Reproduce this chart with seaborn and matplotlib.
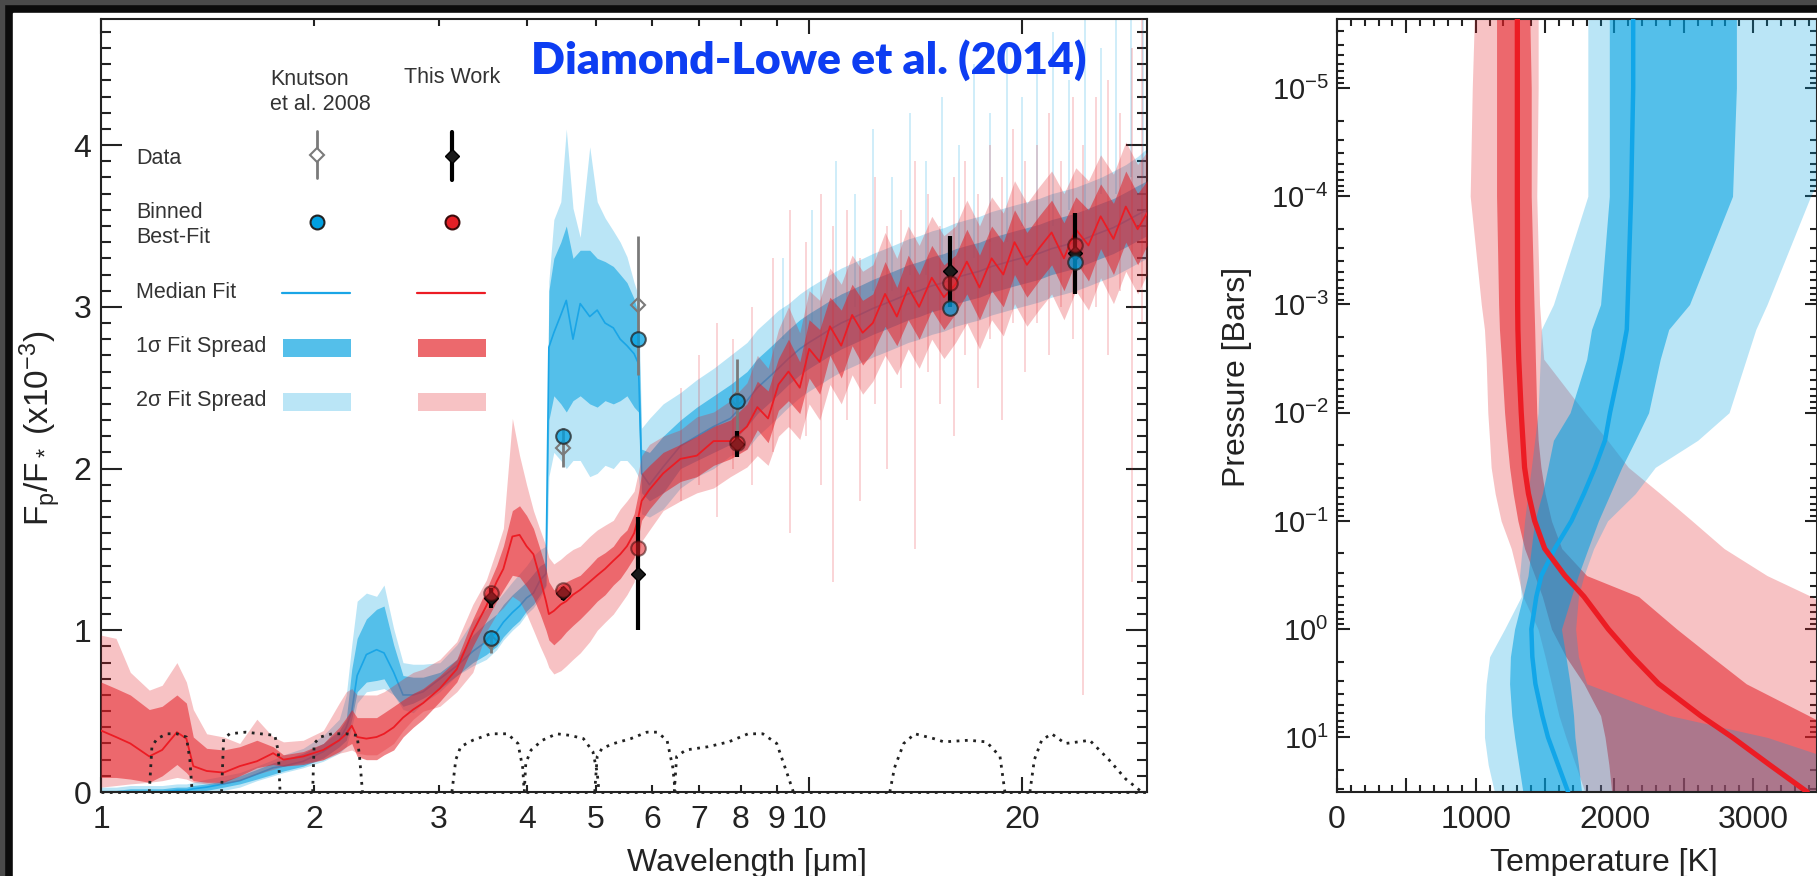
import matplotlib
matplotlib.use("Agg")
import matplotlib.pyplot as plt
import seaborn as sns
from matplotlib.patches import Rectangle
from matplotlib.ticker import (FixedLocator, FixedFormatter, MultipleLocator,
                               LogLocator, NullFormatter, FuncFormatter)

# ---------------- emission spectrum, Fp/F* in units of 1e-3 ----------------
wavelength = [
    1.00, 1.05, 1.10, 1.17, 1.22, 1.28, 1.32, 1.35, 1.41, 1.49,
    1.57, 1.66, 1.75, 1.81, 1.93, 2.06, 2.17, 2.22, 2.26, 2.30,
    2.37, 2.45, 2.51, 2.59, 2.67, 2.76, 2.85, 3.01, 3.18, 3.35,
    3.50, 3.62, 3.70, 3.81, 3.90, 3.99, 4.08, 4.17, 4.25, 4.29,
    4.36, 4.46, 4.54, 4.64, 4.75, 4.90, 5.02, 5.15, 5.29, 5.41,
    5.53, 5.66, 5.74, 5.80, 5.95, 6.22, 6.58, 6.94, 7.33, 7.74,
    8.17, 8.45, 8.75, 9.05, 9.35, 9.7, 10.0, 10.35, 10.7, 11.1,
    11.5, 11.9, 12.3, 12.8, 13.3, 13.8, 14.3, 14.9, 15.5, 16.1,
    16.7, 17.4, 18.1, 18.8, 19.5, 20.3, 21.1, 22.0, 22.9, 23.8,
    24.8, 25.8, 26.9, 28.0, 29.1, 30.0,
]

# this work (red)
red_med = [
    0.38, 0.34, 0.30, 0.22, 0.26, 0.37, 0.33, 0.16, 0.13, 0.12,
    0.16, 0.19, 0.24, 0.20, 0.22, 0.26, 0.32, 0.36, 0.41, 0.34,
    0.33, 0.34, 0.36, 0.40, 0.46, 0.51, 0.55, 0.64, 0.76, 0.99,
    1.15, 1.30, 1.38, 1.58, 1.59, 1.52, 1.47, 1.32, 1.18, 1.10,
    1.12, 1.16, 1.18, 1.22, 1.25, 1.30, 1.34, 1.38, 1.43, 1.47,
    1.52, 1.60, 1.70, 1.80, 1.87, 1.97, 2.06, 2.08, 2.17, 2.17,
    2.26, 2.38, 2.31, 2.52, 2.60, 2.50, 2.74, 2.66, 2.88, 2.76,
    2.95, 2.84, 2.90, 3.08, 2.94, 3.12, 3.00, 3.18, 3.06, 3.14,
    3.28, 3.12, 3.30, 3.20, 3.40, 3.26, 3.36, 3.46, 3.30, 3.48,
    3.38, 3.56, 3.42, 3.62, 3.48, 3.58,
]
red_1hi = [
    0.68, 0.64, 0.60, 0.51, 0.53, 0.60, 0.55, 0.34, 0.27, 0.26,
    0.28, 0.32, 0.28, 0.23, 0.25, 0.30, 0.40, 0.46, 0.51, 0.46,
    0.46, 0.46, 0.49, 0.53, 0.57, 0.61, 0.64, 0.72, 0.82, 1.07,
    1.25, 1.40, 1.52, 1.74, 1.77, 1.71, 1.63, 1.50, 1.38, 1.30,
    1.25, 1.28, 1.30, 1.32, 1.34, 1.40, 1.45, 1.48, 1.52, 1.58,
    1.62, 1.72, 1.85, 1.97, 2.02, 2.10, 2.15, 2.20, 2.26, 2.30,
    2.40, 2.54, 2.48, 2.68, 2.80, 2.66, 2.92, 2.86, 3.06, 2.98,
    3.14, 3.04, 3.08, 3.28, 3.12, 3.32, 3.20, 3.38, 3.26, 3.32,
    3.48, 3.32, 3.50, 3.40, 3.60, 3.46, 3.56, 3.66, 3.52, 3.68,
    3.60, 3.76, 3.64, 3.84, 3.70, 3.78,
]
red_1lo = [
    0.09, 0.09, 0.08, 0.06, 0.10, 0.17, 0.12, 0.07, 0.06, 0.06,
    0.10, 0.15, 0.17, 0.16, 0.17, 0.20, 0.25, 0.28, 0.30, 0.22,
    0.20, 0.20, 0.23, 0.26, 0.34, 0.40, 0.45, 0.56, 0.68, 0.90,
    1.06, 1.18, 1.25, 1.34, 1.33, 1.27, 1.20, 1.10, 1.00, 0.94,
    0.91, 0.95, 0.99, 1.03, 1.07, 1.13, 1.18, 1.22, 1.28, 1.32,
    1.38, 1.45, 1.58, 1.68, 1.75, 1.85, 1.92, 1.95, 2.02, 2.06,
    2.12, 2.24, 2.16, 2.36, 2.42, 2.34, 2.56, 2.46, 2.70, 2.56,
    2.76, 2.64, 2.72, 2.88, 2.76, 2.92, 2.80, 2.98, 2.86, 2.96,
    3.08, 2.92, 3.10, 3.00, 3.20, 3.06, 3.16, 3.26, 3.10, 3.28,
    3.16, 3.36, 3.20, 3.40, 3.26, 3.38,
]
red_2hi = [
    0.97, 0.95, 0.74, 0.63, 0.66, 0.80, 0.68, 0.51, 0.36, 0.34,
    0.30, 0.45, 0.34, 0.31, 0.32, 0.38, 0.55, 0.62, 0.64, 0.60,
    0.60, 0.60, 0.62, 0.66, 0.70, 0.74, 0.76, 0.82, 0.93, 1.16,
    1.31, 1.50, 1.63, 2.31, 2.08, 1.90, 1.74, 1.62, 1.52, 1.45,
    1.41, 1.44, 1.47, 1.50, 1.52, 1.58, 1.62, 1.65, 1.68, 1.75,
    1.80, 1.86, 1.98, 2.08, 2.15, 2.20, 2.24, 2.32, 2.35, 2.42,
    2.53, 2.70, 2.62, 2.86, 3.00, 2.84, 3.10, 3.04, 3.24, 3.14,
    3.32, 3.22, 3.26, 3.46, 3.30, 3.50, 3.38, 3.56, 3.44, 3.50,
    3.66, 3.50, 3.68, 3.58, 3.78, 3.64, 3.74, 3.84, 3.70, 3.86,
    3.78, 3.94, 3.82, 4.02, 3.88, 3.96,
]
red_2lo = [
    0.03, 0.04, 0.05, 0.06, 0.07, 0.09, 0.08, 0.06, 0.05, 0.05,
    0.07, 0.11, 0.14, 0.16, 0.18, 0.20, 0.24, 0.25, 0.26, 0.24,
    0.23, 0.23, 0.26, 0.30, 0.38, 0.45, 0.50, 0.53, 0.62, 0.74,
    0.99, 1.10, 1.14, 1.21, 1.18, 1.10, 1.00, 0.90, 0.82, 0.77,
    0.73, 0.75, 0.78, 0.82, 0.86, 0.93, 1.00, 1.05, 1.10, 1.16,
    1.22, 1.30, 1.45, 1.55, 1.62, 1.74, 1.80, 1.85, 1.88, 1.95,
    2.01, 2.08, 2.02, 2.20, 2.26, 2.18, 2.40, 2.30, 2.52, 2.40,
    2.58, 2.46, 2.54, 2.70, 2.58, 2.74, 2.62, 2.80, 2.68, 2.78,
    2.90, 2.74, 2.92, 2.82, 3.02, 2.88, 2.98, 3.08, 2.92, 3.10,
    2.98, 3.18, 3.02, 3.22, 3.08, 3.20,
]

# Knutson et al. 2008 (blue)
blue_med = [
    0.00, 0.00, 0.00, 0.00, 0.00, 0.01, 0.01, 0.02, 0.03, 0.05,
    0.07, 0.11, 0.15, 0.16, 0.19, 0.25, 0.32, 0.40, 0.50, 0.72,
    0.85, 0.88, 0.86, 0.74, 0.60, 0.60, 0.62, 0.70, 0.78, 0.87,
    0.93, 0.99, 1.05, 1.11, 1.15, 1.20, 1.23, 1.31, 1.35, 2.75,
    2.84, 2.95, 3.04, 2.80, 3.02, 2.94, 2.98, 2.90, 2.87, 2.80,
    2.76, 2.71, 2.65, 1.97, 1.90, 2.01, 2.14, 2.20, 2.26, 2.31,
    2.42, 2.50, 2.56, 2.62, 2.68, 2.74, 2.78, 2.82, 2.86, 2.90,
    2.93, 2.96, 2.99, 3.02, 3.05, 3.08, 3.10, 3.13, 3.15, 3.18,
    3.20, 3.22, 3.25, 3.27, 3.29, 3.31, 3.33, 3.36, 3.38, 3.40,
    3.43, 3.46, 3.49, 3.53, 3.57, 3.60,
]
blue_1hi = [
    0.01, 0.01, 0.02, 0.02, 0.02, 0.03, 0.03, 0.04, 0.05, 0.07,
    0.10, 0.14, 0.18, 0.20, 0.24, 0.30, 0.38, 0.45, 0.76, 0.95,
    1.07, 1.13, 1.15, 0.91, 0.72, 0.71, 0.71, 0.74, 0.82, 0.97,
    1.05, 1.10, 1.16, 1.22, 1.26, 1.30, 1.35, 1.40, 1.42, 3.10,
    3.30, 3.40, 3.50, 3.30, 3.35, 3.35, 3.30, 3.28, 3.25, 3.20,
    3.15, 3.05, 2.95, 2.12, 2.10, 2.20, 2.30, 2.38, 2.45, 2.52,
    2.60, 2.68, 2.74, 2.80, 2.86, 2.92, 2.96, 3.00, 3.04, 3.08,
    3.11, 3.14, 3.17, 3.20, 3.23, 3.26, 3.28, 3.31, 3.33, 3.36,
    3.38, 3.40, 3.43, 3.45, 3.47, 3.49, 3.51, 3.54, 3.56, 3.58,
    3.61, 3.64, 3.67, 3.71, 3.75, 3.78,
]
blue_1lo = [
    -0.02, -0.02, -0.02, -0.02, -0.02, -0.01, -0.01, 0.00, 0.01, 0.03,
    0.05, 0.08, 0.11, 0.13, 0.16, 0.21, 0.28, 0.32, 0.45, 0.62,
    0.68, 0.69, 0.70, 0.60, 0.53, 0.55, 0.58, 0.64, 0.72, 0.80,
    0.85, 0.90, 0.96, 1.02, 1.06, 1.12, 1.16, 1.22, 1.28, 2.30,
    2.45, 2.40, 2.35, 2.42, 2.45, 2.40, 2.38, 2.42, 2.40, 2.42,
    2.45, 2.38, 2.35, 1.85, 1.80, 1.85, 2.00, 2.05, 2.10, 2.15,
    2.26, 2.34, 2.40, 2.46, 2.52, 2.58, 2.62, 2.66, 2.70, 2.74,
    2.77, 2.80, 2.83, 2.86, 2.89, 2.92, 2.94, 2.97, 2.99, 3.02,
    3.04, 3.06, 3.09, 3.11, 3.13, 3.15, 3.17, 3.20, 3.22, 3.24,
    3.27, 3.30, 3.33, 3.37, 3.41, 3.44,
]
blue_2hi = [
    0.03, 0.03, 0.04, 0.04, 0.04, 0.05, 0.05, 0.06, 0.08, 0.10,
    0.12, 0.16, 0.20, 0.23, 0.27, 0.35, 0.45, 0.60, 0.91, 1.18,
    1.23, 1.21, 1.28, 1.01, 0.80, 0.79, 0.79, 0.80, 0.91, 1.06,
    1.13, 1.18, 1.23, 1.30, 1.35, 1.40, 1.46, 1.50, 1.52, 3.16,
    3.54, 3.65, 4.10, 3.61, 3.43, 3.99, 3.65, 3.55, 3.47, 3.40,
    3.31, 3.15, 3.07, 2.25, 2.31, 2.40, 2.47, 2.55, 2.62, 2.70,
    2.78, 2.86, 2.92, 2.98, 3.02, 3.08, 3.12, 3.16, 3.20, 3.24,
    3.27, 3.30, 3.33, 3.36, 3.39, 3.42, 3.44, 3.47, 3.49, 3.52,
    3.54, 3.56, 3.59, 3.61, 3.63, 3.65, 3.67, 3.70, 3.72, 3.74,
    3.77, 3.80, 3.84, 3.88, 3.93, 3.98,
]
blue_2lo = [
    -0.03, -0.03, -0.03, -0.03, -0.03, -0.02, -0.02, -0.01, 0.00, 0.01,
    0.03, 0.07, 0.10, 0.12, 0.15, 0.19, 0.24, 0.28, 0.40, 0.55,
    0.62, 0.63, 0.64, 0.60, 0.51, 0.49, 0.55, 0.62, 0.72, 0.78,
    0.82, 0.88, 0.94, 1.00, 1.04, 1.10, 1.14, 1.20, 1.27, 1.95,
    2.10, 2.05, 2.00, 2.05, 2.05, 1.95, 1.97, 2.02, 2.00, 2.05,
    2.05, 2.00, 1.95, 1.72, 1.70, 1.75, 1.88, 1.95, 2.00, 2.08,
    2.12, 2.20, 2.26, 2.32, 2.38, 2.44, 2.48, 2.52, 2.56, 2.60,
    2.63, 2.66, 2.69, 2.72, 2.75, 2.78, 2.80, 2.83, 2.85, 2.88,
    2.90, 2.92, 2.95, 2.97, 2.99, 3.01, 3.03, 3.06, 3.08, 3.10,
    3.13, 3.16, 3.19, 3.23, 3.27, 3.30,
]

# thin noise spikes of the 2-sigma spread at long wavelengths
red_spike_wl = [6.6, 7.0, 7.4, 7.8, 8.3, 8.9, 9.4, 9.9, 10.4, 10.8,
                11.3, 11.8, 12.4, 12.9, 13.5, 14.1, 14.7, 15.3, 16.0, 16.6,
                17.3, 18.0, 18.7, 19.4, 20.2, 21.0, 21.8, 22.7, 23.6, 24.4,
                25.4, 26.4, 27.5, 28.6, 29.5]
red_spike_lo = [1.8, 1.9, 1.7, 2.0, 1.9, 2.1, 1.6, 2.2, 1.9, 1.3,
                2.3, 1.8, 2.4, 2.0, 2.5, 1.5, 2.6, 2.4, 2.2, 2.7,
                2.5, 2.8, 2.3, 2.9, 2.6, 2.9, 2.7, 3.0, 2.8, 0.6,
                3.0, 2.7, 3.1, 1.3, 2.9]
red_spike_hi = [2.5, 2.7, 2.9, 2.8, 3.0, 3.3, 3.6, 3.4, 3.7, 3.5,
                3.6, 3.3, 3.8, 3.5, 3.6, 3.9, 3.7, 3.5, 3.8, 3.9,
                3.7, 4.0, 3.8, 4.1, 3.9, 4.0, 4.2, 3.9, 4.3, 4.0,
                4.3, 4.4, 4.2, 4.6, 4.8]
blue_spike_wl = [9.2, 10.1, 10.9, 11.6, 12.3, 13.1, 13.9, 14.6, 15.4, 16.3, 17.1,
                 18.0, 19.0, 20.0, 21.0, 22.1, 23.3, 24.5, 25.8, 27.1, 28.5, 29.6]
blue_spike_lo = [2.8, 2.9, 3.0, 3.0, 3.1, 3.1, 3.2, 3.2, 3.3, 3.3, 3.3,
                 3.4, 3.4, 3.5, 3.5, 3.5, 3.6, 3.6, 3.7, 3.7, 3.8, 3.8]
blue_spike_hi = [3.3, 3.6, 3.9, 3.7, 4.1, 3.8, 4.2, 3.9, 4.3, 4.0, 4.5,
                 4.2, 4.6, 4.3, 4.5, 4.7, 4.4, 4.8, 4.6, 4.8, 4.8, 4.8]

# photometry
phot_wl = [3.55, 4.49, 5.73, 7.9, 15.8, 23.7]
knutson_val = [0.93, 2.13, 3.01, 2.43]
knutson_err = [0.07, 0.12, 0.43, 0.25]
this_val = [1.20, 1.23, 1.35, 2.15, 3.22, 3.33]
this_err = [0.06, 0.04, 0.35, 0.08, 0.22, 0.25]
blue_bin = [0.95, 2.20, 2.80, 2.42, 2.99, 3.28]
red_bin = [1.23, 1.25, 1.51, 2.16, 3.15, 3.38]

# filter response curves (dotted)
filter_wl = [
    [1.17, 1.18, 1.20, 1.24, 1.28, 1.32, 1.335, 1.345],
    [1.48, 1.49, 1.52, 1.60, 1.68, 1.76, 1.78, 1.79],
    [1.99, 2.00, 2.04, 2.12, 2.22, 2.30, 2.32, 2.34],
    [3.13, 3.17, 3.22, 3.35, 3.55, 3.75, 3.88, 3.94, 3.96],
    [3.96, 3.98, 4.05, 4.20, 4.40, 4.60, 4.80, 4.95, 5.02, 5.05],
    [4.98, 5.02, 5.10, 5.30, 5.60, 5.90, 6.10, 6.30, 6.42, 6.47],
    [6.45, 6.50, 6.70, 7.20, 7.70, 8.20, 8.60, 9.00, 9.30, 9.50],
    [13.0, 13.2, 13.6, 14.1, 15.0, 15.5, 16.8, 17.8, 18.6, 18.9],
    [20.5, 20.8, 21.3, 22.0, 23.0, 24.0, 24.9, 26.5, 28.0, 29.5],
]
filter_resp = [
    [0.0, 0.28, 0.33, 0.36, 0.36, 0.34, 0.20, 0.0],
    [0.0, 0.33, 0.36, 0.37, 0.36, 0.35, 0.25, 0.0],
    [0.0, 0.30, 0.34, 0.36, 0.36, 0.35, 0.20, 0.0],
    [0.0, 0.20, 0.28, 0.32, 0.36, 0.36, 0.30, 0.15, 0.0],
    [0.0, 0.18, 0.26, 0.32, 0.36, 0.35, 0.33, 0.25, 0.12, 0.0],
    [0.0, 0.22, 0.27, 0.30, 0.33, 0.37, 0.37, 0.32, 0.15, 0.0],
    [0.0, 0.22, 0.26, 0.28, 0.31, 0.36, 0.36, 0.30, 0.12, 0.0],
    [0.0, 0.15, 0.30, 0.36, 0.33, 0.31, 0.32, 0.31, 0.22, 0.0],
    [0.0, 0.20, 0.32, 0.36, 0.30, 0.31, 0.32, 0.20, 0.08, 0.0],
]

# ---------------- temperature-pressure profiles ----------------
tp_pressure = [2.3e-6, 1e-5, 1e-4, 1e-3, 1.7e-3, 3.2e-3, 1e-2, 1.8e-2, 3.2e-2, 5.6e-2,
               0.1, 0.18, 0.32, 0.5, 1.0, 1.8, 3.2, 6.3, 10.0, 18.0, 32.0]
red_T_med = [1300, 1300, 1300, 1302, 1304, 1310, 1328, 1340, 1352, 1380,
             1425, 1497, 1642, 1780, 1956, 2130, 2318, 2620, 2850, 3120, 3390]
red_T_1lo = [1150, 1150, 1150, 1165, 1171, 1185, 1208, 1225, 1244, 1270,
             1304, 1352, 1425, 1480, 1546, 1650, 1780, 1900, 1932, 1960, 1980]
red_T_1hi = [1390, 1400, 1400, 1420, 1425, 1430, 1440, 1450, 1470, 1500,
             1546, 1620, 1800, 2174, 2450, 2700, 2950, 3400, 3700, 4000, 4300]
red_T_2lo = [990, 975, 960, 1040, 1063, 1075, 1087, 1100, 1111, 1140,
             1183, 1256, 1304, 1340, 1449, 1500, 1546, 1600, 1650, 1720, 1787]
red_T_2hi = [1450, 1450, 1440, 1460, 1473, 1490, 1787, 1950, 2100, 2330,
             2560, 2790, 3100, 3420, 3800, 4100, 4300, 4500, 4600, 4700, 4800]
blue_T_med = [2135, 2135, 2120, 2095, 2089, 2050, 1968, 1932, 1860, 1780,
              1690, 1570, 1473, 1437, 1401, 1408, 1430, 1480, 1521, 1594, 1666]
blue_T_1lo = [1963, 1963, 1963, 1900, 1835, 1800, 1680, 1560, 1520, 1480,
              1425, 1400, 1377, 1340, 1280, 1250, 1244, 1260, 1280, 1310, 1340]
blue_T_1hi = [2879, 2879, 2851, 2541, 2391, 2330, 2246, 2150, 2053, 1970,
              1884, 1810, 1739, 1690, 1618, 1650, 1680, 1705, 1715, 1740, 1763]
blue_T_2lo = [1808, 1808, 1808, 1560, 1473, 1465, 1449, 1425, 1401, 1376,
              1352, 1334, 1316, 1328, 1208, 1100, 1075, 1063, 1063, 1090, 1135]
blue_T_2hi = [3800, 3800, 3414, 3100, 3019, 2950, 2826, 2600, 2294, 2150,
              1950, 1850, 1780, 1740, 1720, 1740, 1800, 2400, 3100, 3700, 4000]

RED = "#e41f26"
BLUE = "#00a0e1"
A1, A2 = 0.55, 0.27
TXT = "#222222"

sns.set_theme(style="ticks")
plt.rcParams["font.family"] = ["Liberation Sans", "DejaVu Sans"]
plt.rcParams["mathtext.fontset"] = "custom"
plt.rcParams["mathtext.rm"] = "Liberation Sans"
plt.rcParams["mathtext.it"] = "Liberation Sans:italic"
plt.rcParams["mathtext.default"] = "regular"

W, H = 1817, 876
fig = plt.figure(figsize=(W / 100, H / 100), dpi=100, facecolor="#0b0b0b")
fig.patches.append(Rectangle((13 / W, 0), 1, 1 - 13 / H, transform=fig.transFigure,
                             color="white", zorder=-10))
fig.patches.append(Rectangle((0, 1 - 4 / H), 1, 4 / H, transform=fig.transFigure,
                             color="#4a4a4a", zorder=-10))
fig.patches.append(Rectangle((0, 0), 4 / W, 1, transform=fig.transFigure,
                             color="#4a4a4a", zorder=-10))

# ============ left panel: spectrum ============
ax = fig.add_axes([101 / W, 84 / H, 1046 / W, 773 / H])
ax.set_facecolor("white")
ax.set_xscale("log")
ax.set_xlim(1, 30)
ax.set_ylim(0, 4.78)

ax.fill_between(wavelength, blue_2lo, blue_2hi, color=BLUE, alpha=A2, lw=0, zorder=1)
ax.fill_between(wavelength, blue_1lo, blue_1hi, color=BLUE, alpha=A1, lw=0, zorder=1)
ax.vlines(blue_spike_wl, blue_spike_lo, blue_spike_hi, colors=BLUE, alpha=0.22, lw=1.2, zorder=1)
sns.lineplot(x=wavelength, y=blue_med, ax=ax, color="#1aa5e6", lw=1.2,
             estimator=None, sort=False, zorder=2)
ax.fill_between(wavelength, red_2lo, red_2hi, color=RED, alpha=A2, lw=0, zorder=3)
ax.fill_between(wavelength, red_1lo, red_1hi, color=RED, alpha=A1, lw=0, zorder=3)
ax.vlines(red_spike_wl, red_spike_lo, red_spike_hi, colors=RED, alpha=0.22, lw=1.2, zorder=3)
sns.lineplot(x=wavelength, y=red_med, ax=ax, color="#ec1c24", lw=1.3,
             estimator=None, sort=False, zorder=4)

for fw, fr in zip(filter_wl, filter_resp):
    ax.plot(fw, fr, color="#222222", ls=(0, (1, 2)), lw=2, zorder=5)
ax.axhline(0, color="#222222", ls=(0, (1, 2)), lw=2, zorder=5, clip_on=False)

# photometry
ax.errorbar(phot_wl[:4], knutson_val, yerr=knutson_err, fmt="D", ms=7, mfc="none",
            mec="#7a7a7a", mew=1.5, ecolor="#7a7a7a", elinewidth=2, capsize=0, zorder=6)
ax.errorbar(phot_wl, this_val, yerr=this_err, fmt="D", ms=7, mfc="#1a1a1a",
            mec="black", ecolor="black", elinewidth=3, capsize=0, zorder=7)
sns.scatterplot(x=phot_wl, y=blue_bin, ax=ax, s=110, color=BLUE, alpha=0.75,
                edgecolor="#222222", linewidth=1.5, zorder=8)
sns.scatterplot(x=phot_wl, y=red_bin, ax=ax, s=110, color=RED, alpha=0.55,
                edgecolor="#3a0a0a", linewidth=1.5, zorder=8)

ax.xaxis.set_major_locator(FixedLocator([1, 10, 20]))
ax.xaxis.set_major_formatter(FixedFormatter(["1", "10", "20"]))
ax.xaxis.set_minor_locator(FixedLocator([2, 3, 4, 5, 6, 7, 8, 9]))
ax.xaxis.set_minor_formatter(FixedFormatter(["2", "3", "4", "5", "6", "7", "8", "9"]))
ax.yaxis.set_major_locator(MultipleLocator(1))
ax.yaxis.set_minor_locator(MultipleLocator(0.1))
ax.tick_params(which="both", direction="in", top=True, right=True, width=1.5,
               color="#222222", labelcolor=TXT, labelsize=23)
ax.tick_params(axis="y", which="major", length=15, pad=7)
ax.tick_params(axis="y", which="minor", length=7)
ax.tick_params(axis="x", which="major", length=11, pad=9)
ax.tick_params(axis="x", which="minor", length=5, pad=9)
for s in ax.spines.values():
    s.set_linewidth(1.5)
    s.set_color("#222222")
ax.set_xlabel("Wavelength [μm]", fontsize=23, color=TXT, va="center")
ax.xaxis.set_label_coords(0.618, -0.092)
ax.set_ylabel(r"F$_p$/F$_*$ (x10$^{-3}$)", fontsize=24, color=TXT, va="center")
ax.yaxis.set_label_coords(-0.058, 0.47)

# hand-built legend
tr = ax.transAxes
LC = "#333333"
ax.text(0.162, 0.906, "Knutson\net al. 2008", transform=tr, ha="left", va="center",
        fontsize=15.5, color=LC, linespacing=1.25, zorder=9)
ax.text(0.336, 0.924, "This Work", transform=tr, ha="center", va="center",
        fontsize=15.5, color=LC, zorder=9)
rows = [("Data", 0.820), ("Binned\nBest-Fit", 0.733), ("Median Fit", 0.646),
        ("1σ Fit Spread", 0.576), ("2σ Fit Spread", 0.507)]
for label, yy in rows:
    ax.text(0.0335, yy, label, transform=tr, ha="left", va="center", fontsize=15.5,
            color=LC, linespacing=1.25, zorder=9)
ax.plot([0.2065, 0.2065], [0.794, 0.855], transform=tr, color="#7a7a7a", lw=2, zorder=9)
ax.plot([0.2065], [0.824], transform=tr, marker="D", ms=7, mfc="white", mec="#7a7a7a",
        mew=1.5, zorder=10)
ax.plot([0.3356, 0.3356], [0.792, 0.854], transform=tr, color="black", lw=3, zorder=9)
ax.plot([0.3356], [0.823], transform=tr, marker="D", ms=7, mfc="#1a1a1a", mec="black",
        zorder=10)
ax.plot([0.2065], [0.737], transform=tr, marker="o", ms=10, mfc=BLUE, mec="#222222",
        mew=1.5, zorder=9)
ax.plot([0.3356], [0.737], transform=tr, marker="o", ms=10, mfc=RED, mec="#3a0a0a",
        mew=1.5, zorder=9)
ax.plot([0.173, 0.238], [0.6455, 0.6455], transform=tr, color="#1aa5e6", lw=1.6, zorder=9)
ax.plot([0.302, 0.367], [0.6455, 0.6455], transform=tr, color="#ec1c24", lw=1.6, zorder=9)
for x0, col in [(0.174, BLUE), (0.303, RED)]:
    ax.add_patch(Rectangle((x0, 0.563), 0.065, 0.023, transform=tr, color=col,
                           alpha=0.67, lw=0, zorder=9))
    ax.add_patch(Rectangle((x0, 0.493), 0.065, 0.023, transform=tr, color=col,
                           alpha=A2, lw=0, zorder=9))

fig.text(809 / W, 1 - 60 / H, "Diamond-Lowe et al. (2014)", ha="center", va="center",
         fontsize=32, fontweight="heavy", family=["Lato", "DejaVu Sans"], color="#0d3df2",
         zorder=20)

# ============ right panel: T-P profiles ============
ax2 = fig.add_axes([1337 / W, 84 / H, 480 / W, 773 / H])
ax2.set_facecolor("white")
ax2.set_yscale("log")
ax2.set_xlim(0, 3460)
ax2.set_ylim(32, 2.3e-6)

ax2.fill_betweenx(tp_pressure, red_T_2lo, red_T_2hi, color=RED, alpha=A2, lw=0, zorder=1)
ax2.fill_betweenx(tp_pressure, red_T_1lo, red_T_1hi, color=RED, alpha=A1, lw=0, zorder=1)
ax2.fill_betweenx(tp_pressure, blue_T_2lo, blue_T_2hi, color=BLUE, alpha=A2, lw=0, zorder=2)
ax2.fill_betweenx(tp_pressure, blue_T_1lo, blue_T_1hi, color=BLUE, alpha=A1, lw=0, zorder=2)
sns.lineplot(x=blue_T_med, y=tp_pressure, ax=ax2, color="#12a6e8", lw=3.2,
             estimator=None, sort=False, orient="y", zorder=3)
sns.lineplot(x=red_T_med, y=tp_pressure, ax=ax2, color="#ec1c24", lw=3.8,
             estimator=None, sort=False, orient="y", zorder=4)

ax2.xaxis.set_major_locator(MultipleLocator(500))
ax2.xaxis.set_major_formatter(FuncFormatter(lambda v, p: f"{int(v)}" if v % 1000 == 0 else ""))
ax2.xaxis.set_minor_locator(MultipleLocator(100))
ax2.yaxis.set_major_locator(LogLocator(base=10, numticks=20))
ax2.yaxis.set_minor_locator(LogLocator(base=10, subs=range(2, 10), numticks=20))
ax2.yaxis.set_minor_formatter(NullFormatter())
ax2.tick_params(which="both", direction="in", top=True, right=True, width=1.5,
                color="#222222", labelcolor=TXT, labelsize=23)
ax2.tick_params(axis="x", which="major", length=10, pad=9)
ax2.tick_params(axis="x", which="minor", length=5)
ax2.tick_params(axis="y", which="major", length=9, pad=6, labelsize=21)
ax2.tick_params(axis="y", which="minor", length=5)
for s in ax2.spines.values():
    s.set_linewidth(1.5)
    s.set_color("#222222")
ax2.set_xlabel("Temperature [K]", fontsize=23, color=TXT, va="center")
ax2.xaxis.set_label_coords(0.555, -0.092)
ax2.set_ylabel("Pressure [Bars]", fontsize=23, color=TXT, va="center")
ax2.yaxis.set_label_coords(-0.208, 0.537)

fig.savefig("out.png", dpi=100, facecolor=fig.get_facecolor())
